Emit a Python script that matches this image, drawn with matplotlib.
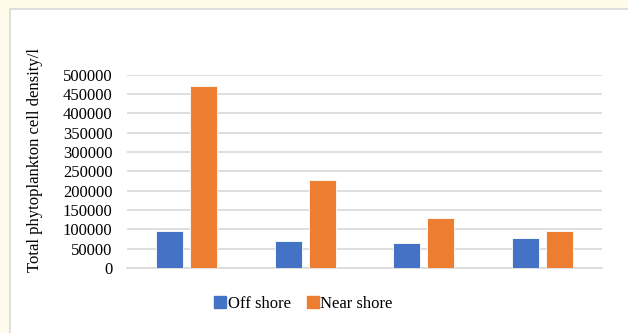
import matplotlib
matplotlib.use("Agg")
import numpy as np
import matplotlib.pyplot as plt
from matplotlib.patches import Rectangle
from matplotlib.lines import Line2D

# phytoplankton cell density per site pair
sites = ["1", "2", "3", "4"]
off_shore = [96500, 71000, 63500, 78000]
near_shore = [470000, 228000, 130500, 96500]
yticks = list(range(0, 500001, 50000))

BLUE = "#4472c4"
ORANGE = "#ed7d31"
GRID = "#d9d9d9"

plt.rcParams['font.family'] = ['Liberation Serif', 'DejaVu Serif']

fig = plt.figure(figsize=(6.28, 3.33), dpi=100)
fig.patch.set_facecolor("#fffbea")

# white chart panel with a thin grey frame
W, H = 628, 333
fig.patches.append(Rectangle((10 / W, -0.1), 1.1, 1 - 9 / H + 0.1,
                             transform=fig.transFigure, facecolor="white",
                             edgecolor=GRID, linewidth=1.2, zorder=-5))

ax = fig.add_axes([127 / W, 1 - 268 / H, (602 - 127) / W, (268 - 74.7) / H])
ax.set_facecolor("none")

x = np.arange(len(sites))
w = 0.227
off = 0.143
ax.bar(x - off, off_shore, w, color=BLUE, edgecolor="white", linewidth=0.6, zorder=3)
ax.bar(x + off, near_shore, w, color=ORANGE, edgecolor="white", linewidth=0.6, zorder=3)

ax.set_xlim(-0.5, len(sites) - 0.5)
ax.set_ylim(0, 500000)
ax.set_yticks(yticks)
ax.set_yticklabels([str(v) for v in yticks], fontsize=12)
ax.set_xticks([])
ax.tick_params(axis="y", length=0, pad=10.5)
ax.yaxis.grid(True, color=GRID, linewidth=1.2, zorder=0)
ax.set_axisbelow(True)
for s in ["top", "right", "left"]:
    ax.spines[s].set_visible(False)
ax.spines["bottom"].set_color(GRID)
ax.spines["bottom"].set_linewidth(1.2)

fig.text(35 / W, 1 - 160 / H, "Total phytoplankton cell density/l",
         rotation=90, ha="center", va="center", fontsize=12)

handles = [Line2D([], [], marker="s", linestyle="", color=BLUE, markersize=8),
           Line2D([], [], marker="s", linestyle="", color=ORANGE, markersize=8)]
fig.legend(handles, ["Off shore", "Near shore"], loc="center",
           bbox_to_anchor=(304 / W, 1 - 304 / H), ncol=2, frameon=False,
           fontsize=12, handlelength=0.6, handletextpad=0.15, columnspacing=1.0)

fig.savefig("out.png", dpi=100, facecolor=fig.get_facecolor())
